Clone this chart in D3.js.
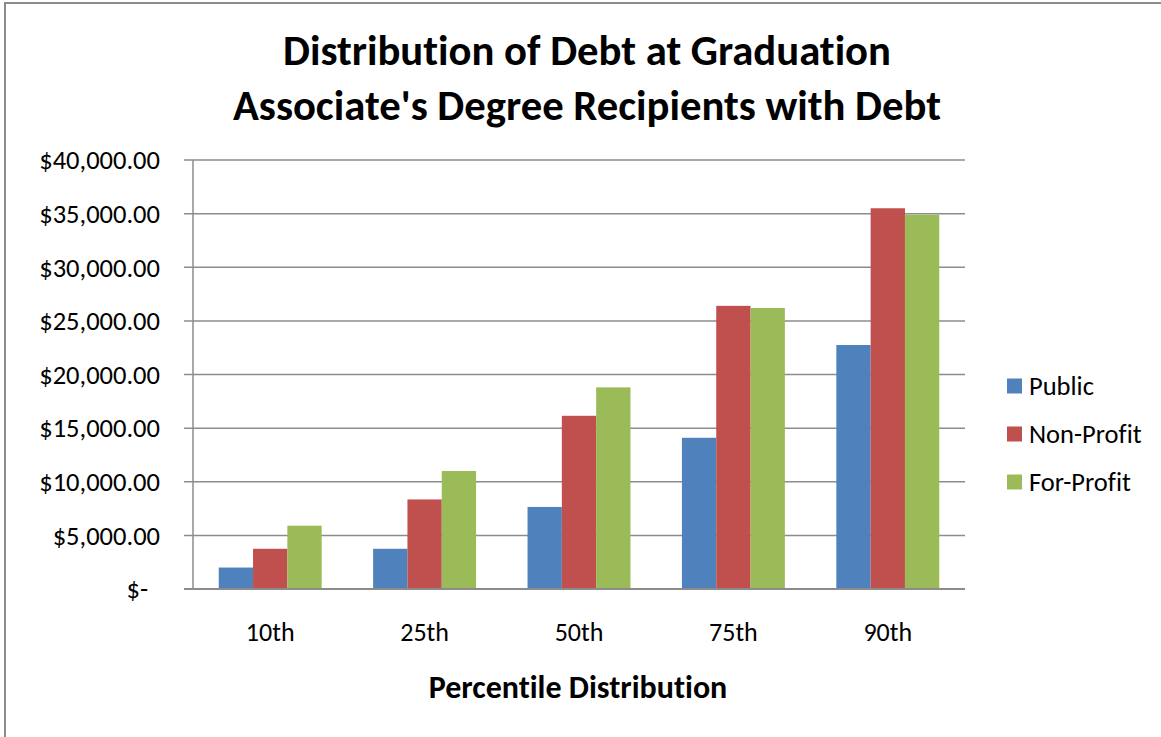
<!DOCTYPE html>
<html>
<head>
<meta charset="utf-8">
<script src="https://cdn.jsdelivr.net/npm/d3@7"></script>
<style>
  body { margin:0; background:#fff; }
  svg text { font-family: Carlito, Calibri, "Open Sans", sans-serif; fill:#000; font-variant-ligatures: none; }
</style>
</head>
<body>
<svg id="board" width="1161" height="737"></svg>
<script>
var categories = ["10th", "25th", "50th", "75th", "90th"];
var seriesNames = ["Public", "Non-Profit", "For-Profit"];
var publicVals = [2000, 3750, 7650, 14100, 22750];
var nonProfitVals = [3750, 8350, 16150, 26400, 35500];
var forProfitVals = [5900, 11000, 18800, 26200, 34900];
var yTicks = [0, 5000, 10000, 15000, 20000, 25000, 30000, 35000, 40000];
var colors = ["#4F81BD", "#C0504D", "#9BBB59"];

var series = [publicVals, nonProfitVals, forProfitVals];
var board = d3.select("#board");

// outer chart border
board.append("rect")
      .attr("x", 5).attr("y", 3)
      .attr("width", 1170).attr("height", 760)
      .attr("fill", "none")
      .attr("stroke", "#8c8c8c")
      .attr("stroke-width", 2);

var plotL = 193, plotR = 965, plotT = 160, plotB = 589;

var x = d3.scaleBand().domain(categories).range([plotL, plotR]).paddingInner(0).paddingOuter(0);
var y = d3.scaleLinear().domain([0, 40000]).range([plotB, plotT]);
// bars take 2/3 of each category, gap 150% of a bar
var inner = d3.scaleBand().domain(d3.range(series.length)).range([0, x.bandwidth()]).paddingInner(0).paddingOuter(0.75);

// gridlines
board.append("g").selectAll("line")
      .data(yTicks)
      .enter().append("line")
      .attr("x1", plotL - 9)
      .attr("x2", plotR)
      .attr("y1", function(d){ return y(d); })
      .attr("y2", function(d){ return y(d); })
      .attr("stroke", "#8c8c8c")
      .attr("stroke-width", 1.5);

// bars
for (var s = 0; s < series.length; s++)
{
    board.append("g").selectAll("rect")
      .data(series[s])
      .enter().append("rect")
      .attr("x", function(d, i){ return x(categories[i]) + inner(s); })
      .attr("y", function(d){ return y(d); })
      .attr("width", inner.bandwidth())
      .attr("height", function(d){ return plotB - y(d); })
      .attr("fill", colors[s]);
}

// axis lines
board.append("line")
      .attr("x1", plotL).attr("x2", plotL)
      .attr("y1", plotT).attr("y2", plotB)
      .attr("stroke", "#8c8c8c").attr("stroke-width", 1.5);
board.append("line")
      .attr("x1", plotL - 9).attr("x2", plotR)
      .attr("y1", plotB).attr("y2", plotB)
      .attr("stroke", "#8c8c8c").attr("stroke-width", 2);

// y labels
var fmt = d3.format(",.2f");
board.append("g").selectAll("text")
      .data(yTicks)
      .enter().append("text")
      .attr("x", function(d){ return d === 0 ? 148 : 160; })
      .attr("y", function(d){ return y(d); })
      .attr("dy", "0.35em")
      .attr("text-anchor", "end")
      .style("font-size", "26.5px")
      .text(function(d){ return d === 0 ? "$-" : "$" + fmt(d); });

// x labels
board.append("g").selectAll("text")
      .data(categories)
      .enter().append("text")
      .attr("x", function(d){ return x(d) + x.bandwidth() / 2; })
      .attr("y", 641)
      .attr("text-anchor", "middle")
      .style("font-size", "26px")
      .text(function(d){ return d; });

// titles
board.append("text")
      .attr("x", 587).attr("y", 65)
      .attr("text-anchor", "middle")
      .style("font-size", "42.7px").style("font-weight", "bold")
      .text("Distribution of Debt at Graduation");
board.append("text")
      .attr("x", 587).attr("y", 120)
      .attr("text-anchor", "middle")
      .style("font-size", "42.7px").style("font-weight", "bold")
      .text("Associate's Degree Recipients with Debt");
board.append("text")
      .attr("x", 578).attr("y", 698)
      .attr("text-anchor", "middle")
      .style("font-size", "32px").style("font-weight", "bold")
      .text("Percentile Distribution");

// legend
var legend = board.append("g").selectAll("g")
      .data(seriesNames)
      .enter().append("g")
      .attr("transform", function(d, i){ return "translate(1007," + (386 + i * 48) + ")"; });
legend.append("rect")
      .attr("x", 0).attr("y", -7.5)
      .attr("width", 15).attr("height", 15)
      .attr("fill", function(d, i){ return colors[i]; });
legend.append("text")
      .attr("x", 22).attr("y", 0)
      .attr("dy", "0.35em")
      .style("font-size", "26.5px")
      .text(function(d){ return d; });
</script>
</body>
</html>
